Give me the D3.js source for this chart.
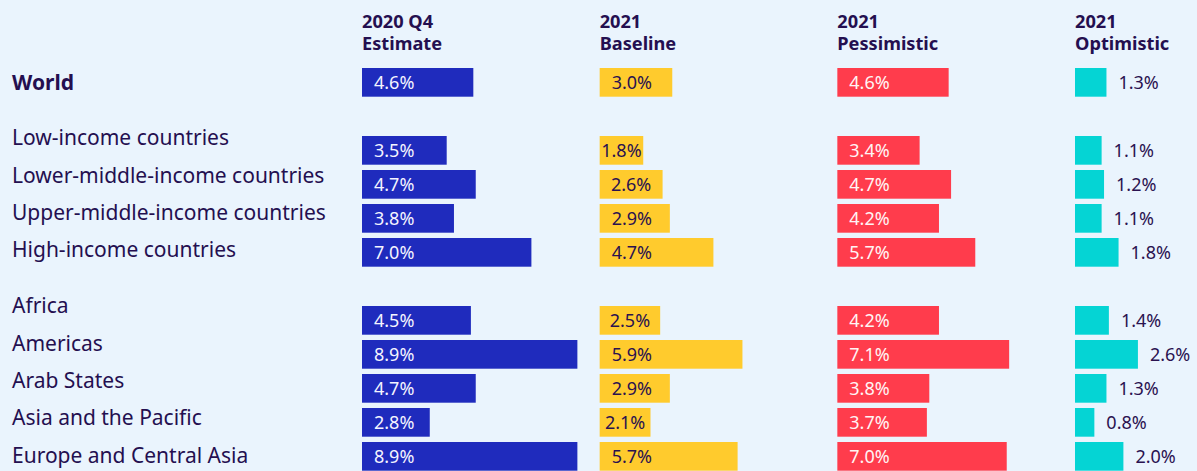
<!DOCTYPE html>
<html>
<head>
<meta charset="utf-8">
<script src="https://cdn.jsdelivr.net/npm/d3@7/dist/d3.min.js"></script>
<style>
  html, body { margin: 0; padding: 0; background: #eaf4fd; }
  svg { display: block; }
  text { font-family: "Noto Sans", "Open Sans", sans-serif; }
</style>
</head>
<body>
<svg id="chart" width="1197" height="471"></svg>
<script>
// ---- Data ----
const categories = ["World", "Low-income countries", "Lower-middle-income countries",
  "Upper-middle-income countries", "High-income countries", "Africa", "Americas",
  "Arab States", "Asia and the Pacific", "Europe and Central Asia"];
const groups = [0, 1, 1, 1, 1, 2, 2, 2, 2, 2];
const estimate2020Q4 = [4.6, 3.5, 4.7, 3.8, 7.0, 4.5, 8.9, 4.7, 2.8, 8.9];
const baseline2021 = [3.0, 1.8, 2.6, 2.9, 4.7, 2.5, 5.9, 2.9, 2.1, 5.7];
const pessimistic2021 = [4.6, 3.4, 4.7, 4.2, 5.7, 4.2, 7.1, 3.8, 3.7, 7.0];
const optimistic2021 = [1.3, 1.1, 1.2, 1.1, 1.8, 1.4, 2.6, 1.3, 0.8, 2.0];
const seriesKeys = ["est", "base", "pess", "opt"];
const seriesHeaders = [["2020 Q4", "Estimate"], ["2021", "Baseline"], ["2021", "Pessimistic"], ["2021", "Optimistic"]];
const seriesValues = [estimate2020Q4, baseline2021, pessimistic2021, optimistic2021];

// ---- Styles ----
const colors = ["#1f2bbd", "#ffcb2d", "#ff3c4c", "#05d4d4"];
const labelInside = [true, true, true, false];
const valueColors = ["#f4f4ff", "#2a1250", "#fff4f4", "#2a1250"];
const textColor = "#240f50";

const svg = d3.select("#chart");

// Scales
const colX = d3.scalePoint().domain(seriesKeys).range([362, 1075]);
const xLen = d3.scaleLinear().domain([0, 10]).range([0, 242]);
const barSlot = categories.map((c, i) => i + groups[i]);
const labelSlot = categories.map((c, i) => i + 0.5 * groups[i]);
const yBar = d3.scaleLinear().domain([0, 11]).range([68, 442]);
const barH = 28.7;
const yLabel = d3.scaleLinear().domain([0, 10]).range([89.5, 462.5]);

// Headers
seriesKeys.forEach((k, s) => {
  const t = svg.append("text")
    .attr("x", colX(k))
    .attr("fill", textColor)
    .attr("font-weight", 700)
    .attr("font-size", 18.2);
  seriesHeaders[s].forEach((line, j) => {
    t.append("tspan").attr("x", colX(k)).attr("y", 27.7 + j * 21.8).text(line);
  });
});

// Category labels
svg.append("g").selectAll("text")
  .data(categories)
  .join("text")
  .attr("x", 12)
  .attr("y", (d, i) => yLabel(labelSlot[i]))
  .attr("fill", textColor)
  .attr("font-size", 21)
  .attr("font-weight", (d, i) => i === 0 ? 700 : 400)
  .text(d => d);

// Bars
seriesKeys.forEach((k, s) => {
  const g = svg.append("g");
  const vals = seriesValues[s];
  const x0 = colX(k);
  g.selectAll("rect")
    .data(vals)
    .join("rect")
    .attr("x", x0)
    .attr("y", (d, i) => yBar(barSlot[i]))
    .attr("width", d => xLen(d))
    .attr("height", barH)
    .attr("fill", colors[s]);

  const labels = g.selectAll("text")
    .data(vals)
    .join("text")
    .attr("y", (d, i) => yBar(barSlot[i]) + barH / 2)
    .attr("dy", "0.35em")
    .attr("fill", valueColors[s])
    .attr("font-size", 18)
    .text(d => d.toFixed(1) + "%");

  labels.each(function(d) {
    const tw = this.getComputedTextLength();
    const w = xLen(d);
    let x;
    if (labelInside[s]) {
      x = x0 + Math.min(12, (w - tw) / 2);
    } else {
      x = x0 + w + 12;
    }
    d3.select(this).attr("x", x);
  });
});
</script>
</body>
</html>
